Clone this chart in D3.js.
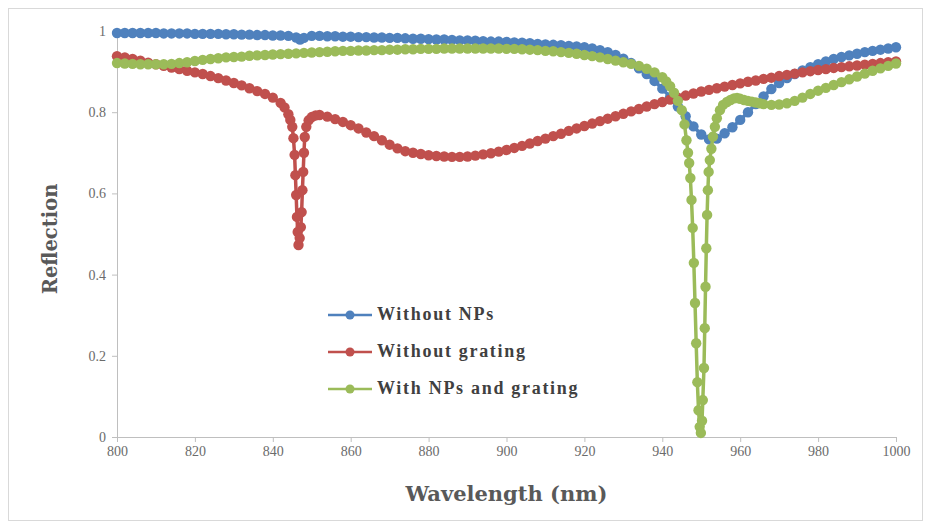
<!DOCTYPE html>
<html>
<head>
<meta charset="utf-8">
<script src="https://cdn.jsdelivr.net/npm/d3@7"></script>
<style>
  body { margin: 0; background: #fff; }
  .axis text { font-family: "Liberation Serif", "DejaVu Serif", serif; font-size: 14px; fill: #6b6b6b; }
  .axis path, .axis line { stroke: #bfbfbf; }
  .titulo { font-family: "DejaVu Serif", "Liberation Serif", serif; font-weight: bold; fill: #595959; }
  .legenda text { font-family: "Liberation Serif", serif; font-weight: bold; font-size: 18px; letter-spacing: 1.7px; fill: #404040; }
</style>
</head>
<body>
<svg class="grafico" width="931" height="529"></svg>
<script>
// [wavelength (nm), reflection]
const without_nps = [
  [800,0.995],[802,0.995],[804,0.995],[806,0.995],[808,0.995],[810,0.995],[812,0.994],[814,0.994],[816,0.994],[818,0.994],
  [820,0.993],[822,0.993],[824,0.993],[826,0.993],[828,0.992],[830,0.992],[832,0.991],[834,0.991],[836,0.990],[838,0.990],
  [840,0.989],[842,0.989],[844,0.988],[846,0.984],[847,0.979],[848,0.983],[850,0.988],[852,0.988],[854,0.987],[856,0.987],
  [858,0.986],[860,0.986],[862,0.985],[864,0.985],[866,0.984],[868,0.984],[870,0.983],[872,0.983],[874,0.982],[876,0.981],
  [878,0.981],[880,0.980],[882,0.979],[884,0.979],[886,0.978],[888,0.977],[890,0.977],[892,0.976],[894,0.975],[896,0.974],
  [898,0.974],[900,0.973],[902,0.972],[904,0.971],[906,0.970],[908,0.968],[910,0.967],[912,0.966],[914,0.965],[916,0.963],
  [918,0.962],[920,0.960],[922,0.957],[924,0.953],[926,0.948],[928,0.941],[930,0.932],[932,0.921],[934,0.908],[936,0.894],
  [938,0.877],[940,0.858],[942,0.837],[944,0.814],[946,0.790],[948,0.765],[950,0.745],[952,0.733],[954,0.735],[956,0.748],
  [958,0.763],[960,0.781],[962,0.800],[964,0.820],[966,0.839],[968,0.857],[970,0.872],[972,0.884],[974,0.894],[976,0.903],
  [978,0.911],[980,0.918],[982,0.925],[984,0.931],[986,0.936],[988,0.940],[990,0.944],[992,0.948],[994,0.951],[996,0.954],
  [998,0.957],[1000,0.960]
];

const without_grating = [
  [800,0.938],[802,0.935],[804,0.931],[806,0.927],[808,0.922],[810,0.918],[812,0.914],[814,0.910],[816,0.906],[818,0.902],
  [820,0.898],[822,0.894],[824,0.889],[826,0.884],[828,0.878],[830,0.872],[832,0.866],[834,0.859],[836,0.852],[838,0.845],
  [840,0.836],[842,0.823],[843,0.812],[844,0.795],[844.5,0.781],[845,0.764],[845.3,0.736],[845.6,0.695],[845.8,0.645],[846.0,0.596],
  [846.2,0.542],[846.4,0.505],[846.6,0.473],[846.9,0.490],[847.2,0.517],[847.4,0.554],[847.6,0.608],[847.8,0.653],[848.0,0.700],[848.2,0.739],
  [848.6,0.764],[849.2,0.780],[850,0.788],[851,0.792],[852,0.793],[854,0.789],[856,0.783],[858,0.776],[860,0.768],[862,0.760],
  [864,0.750],[866,0.741],[868,0.731],[870,0.720],[872,0.711],[874,0.704],[876,0.700],[878,0.697],[880,0.694],[882,0.692],
  [884,0.691],[886,0.690],[888,0.690],[890,0.691],[892,0.693],[894,0.696],[896,0.699],[898,0.703],[900,0.707],[902,0.712],
  [904,0.717],[906,0.723],[908,0.729],[910,0.735],[912,0.741],[914,0.747],[916,0.754],[918,0.760],[920,0.766],[922,0.772],
  [924,0.778],[926,0.784],[928,0.790],[930,0.796],[932,0.802],[934,0.808],[936,0.814],[938,0.820],[940,0.825],[942,0.831],
  [944,0.836],[946,0.841],[948,0.846],[950,0.851],[952,0.855],[954,0.859],[956,0.863],[958,0.867],[960,0.871],[962,0.875],
  [964,0.878],[966,0.882],[968,0.885],[970,0.889],[972,0.892],[974,0.895],[976,0.898],[978,0.901],[980,0.904],[982,0.906],
  [984,0.909],[986,0.911],[988,0.913],[990,0.915],[992,0.917],[994,0.919],[996,0.921],[998,0.923],[1000,0.925]
];

const with_nps_grating = [
  [800,0.921],[802,0.920],[804,0.919],[806,0.918],[808,0.918],[810,0.918],[812,0.918],[814,0.919],[816,0.921],[818,0.923],
  [820,0.926],[822,0.929],[824,0.931],[826,0.933],[828,0.935],[830,0.936],[832,0.937],[834,0.939],[836,0.940],[838,0.941],
  [840,0.942],[842,0.943],[844,0.944],[846,0.945],[848,0.946],[850,0.947],[852,0.948],[854,0.949],[856,0.950],[858,0.951],
  [860,0.951],[862,0.952],[864,0.952],[866,0.953],[868,0.953],[870,0.954],[872,0.954],[874,0.955],[876,0.955],[878,0.956],
  [880,0.956],[882,0.956],[884,0.957],[886,0.957],[888,0.957],[890,0.957],[892,0.957],[894,0.957],[896,0.957],[898,0.957],
  [900,0.956],[902,0.956],[904,0.955],[906,0.954],[908,0.953],[910,0.951],[912,0.950],[914,0.948],[916,0.946],[918,0.944],
  [920,0.941],[922,0.938],[924,0.935],[926,0.931],[928,0.927],[930,0.923],[932,0.919],[934,0.914],[936,0.907],[938,0.898],
  [940,0.886],[941,0.876],[942,0.864],[943,0.848],[944,0.828],[945,0.805],[945.7,0.770],[946.2,0.731],[946.6,0.700],[946.9,0.675],
  [947.2,0.638],[947.5,0.584],[947.8,0.515],[948.1,0.429],[948.4,0.330],[948.7,0.231],[949.0,0.135],[949.3,0.066],[949.6,0.025],[949.9,0.010],
  [950.2,0.040],[950.4,0.091],[950.7,0.170],[950.9,0.268],[951.1,0.370],[951.3,0.465],[951.5,0.547],[951.7,0.608],[951.9,0.653],[952.2,0.682],
  [952.6,0.710],[953.0,0.740],[953.5,0.764],[954,0.785],[954.8,0.805],[955.6,0.818],[956.6,0.825],[957.5,0.830],[958.4,0.834],[959.2,0.835],
  [960,0.833],[961,0.830],[962,0.828],[963,0.826],[964,0.824],[965,0.822],[966,0.820],[968,0.818],[970,0.819],[972,0.822],
  [974,0.828],[976,0.836],[978,0.845],[980,0.853],[982,0.860],[984,0.867],[986,0.874],[988,0.881],[990,0.888],[992,0.895],
  [994,0.902],[996,0.908],[998,0.914],[1000,0.920]
];

const series_names = ["Without NPs", "Without grating", "With NPs and grating"];
const series_colors = ["#4f81bd", "#c0504d", "#9bbb59"];
const ticks_x = [800, 820, 840, 860, 880, 900, 920, 940, 960, 980, 1000];
const ticks_y = [0, 0.2, 0.4, 0.6, 0.8, 1];

const svg = d3.select("svg.grafico");

const margin = { top: 31, right: 35, bottom: 92, left: 117 };
const w = +svg.attr("width");
const h = +svg.attr("height");

// moldura externa
svg.append("rect")
    .attr("x", 8.5).attr("y", 8.5)
    .attr("width", w - 17).attr("height", h - 17)
    .attr("fill", "#fff")
    .attr("stroke", "#d9d9d9");

const x = d3.scaleLinear()
    .domain([800, 1000])
    .range([margin.left, w - margin.right]);

const y = d3.scaleLinear()
    .domain([0, 1])
    .range([h - margin.bottom, margin.top]);

const eixo_x = d3.axisBottom(x)
    .tickValues(ticks_x)
    .tickFormat(d3.format("d"))
    .tickSize(5)
    .tickPadding(4)
    .tickSizeOuter(0);

const eixo_y = d3.axisLeft(y)
    .tickValues(ticks_y)
    .tickFormat(d => d === 0 || d === 1 ? d3.format("d")(d) : d3.format(".1f")(d))
    .tickSize(5)
    .tickPadding(6)
    .tickSizeOuter(0);

svg.append("g")
    .attr("class", "axis x-axis")
    .attr("transform", "translate(0," + y(0) + ")")
    .call(eixo_x);

svg.append("g")
    .attr("class", "axis y-axis")
    .attr("transform", "translate(" + margin.left + ",0)")
    .call(eixo_y);

// titulos dos eixos
svg.append("text")
    .attr("class", "titulo")
    .attr("x", (x(800) + x(1000)) / 2)
    .attr("y", 501)
    .attr("text-anchor", "middle")
    .attr("font-size", 21)
    .text("Wavelength (nm)");

svg.append("text")
    .attr("class", "titulo")
    .attr("transform", "translate(57," + (y(0.5) + 5) + ") rotate(-90)")
    .attr("text-anchor", "middle")
    .attr("font-size", 19.5)
    .text("Reflection");

const linha = d3.line()
    .x(d => x(d[0]))
    .y(d => y(d[1]));

const todas = [without_nps, without_grating, with_nps_grating];

todas.forEach(function(serie, i) {
    const g = svg.append("g").attr("class", "serie");
    g.append("path")
        .datum(serie)
        .attr("d", linha)
        .attr("fill", "none")
        .attr("stroke", series_colors[i])
        .attr("stroke-width", 3.5)
        .attr("stroke-linejoin", "round");
    g.selectAll("circle")
        .data(serie)
        .enter()
        .append("circle")
        .attr("cx", d => x(d[0]))
        .attr("cy", d => y(d[1]))
        .attr("r", 5.2)
        .attr("fill", series_colors[i]);
});

// legenda
const legenda = svg.append("g").attr("class", "legenda");
const leg_y = [315, 352, 389];

series_names.forEach(function(nome, i) {
    const item = legenda.append("g")
        .attr("transform", "translate(328," + leg_y[i] + ")");
    item.append("line")
        .attr("x1", 0).attr("x2", 44)
        .attr("stroke", series_colors[i])
        .attr("stroke-width", 2.5);
    item.append("circle")
        .attr("cx", 22).attr("r", 4.5)
        .attr("fill", series_colors[i]);
    item.append("text")
        .attr("x", 49)
        .attr("y", 5)
        .text(nome);
});
</script>
</body>
</html>
